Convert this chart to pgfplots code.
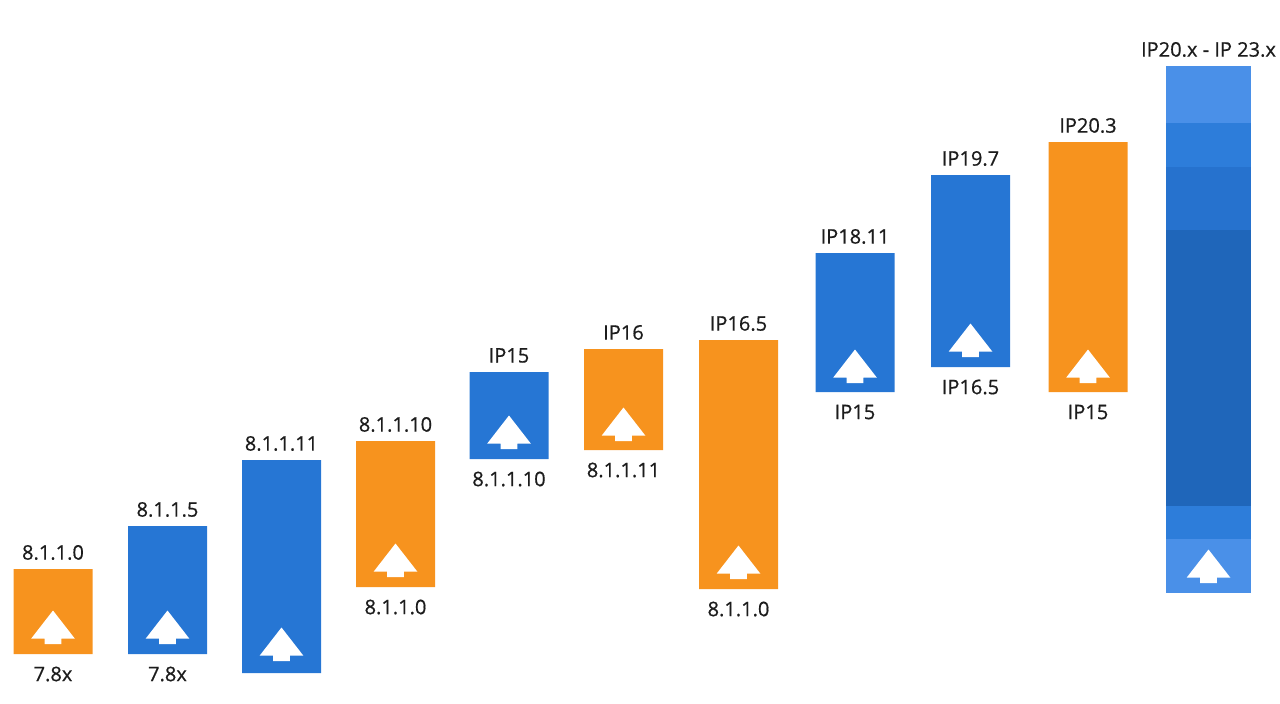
\documentclass[border=0pt]{standalone}
\usepackage{fontspec}
\setmainfont{Open Sans}[FakeBold=0.6]
\usepackage{pgfplots}
\usepackage{pgfplotstable}
\pgfplotsset{compat=1.18}

\definecolor{barorange}{HTML}{F7931E}
\definecolor{barblue}{HTML}{2676D4}
\definecolor{bluelight}{HTML}{4A90E8}
\definecolor{bluemid}{HTML}{2D7DDA}
\definecolor{bluedark}{HTML}{2672CE}
\definecolor{bluedeep}{HTML}{1F66BA}
\definecolor{labeltext}{HTML}{1C1C1C}

% white "upgrade" arrow, 1 px of the reference = 0.569pt
\pgfdeclareplotmark{uparrow}{%
  \pgfpathmoveto{\pgfpoint{-4.74pt}{0pt}}%
  \pgfpathlineto{\pgfpoint{4.74pt}{0pt}}%
  \pgfpathlineto{\pgfpoint{4.74pt}{3.13pt}}%
  \pgfpathlineto{\pgfpoint{12.38pt}{3.13pt}}%
  \pgfpathlineto{\pgfpoint{0pt}{19.06pt}}%
  \pgfpathlineto{\pgfpoint{-12.38pt}{3.13pt}}%
  \pgfpathlineto{\pgfpoint{-4.74pt}{3.13pt}}%
  \pgfpathclose
  \pgfusepathqfill}

% x = bar centre, lo = bar bottom, or/bl = bar height, g1..g6 = bands of the last bar
% ab = arrow base
\pgfplotstableread[col sep=comma]{
x,lo,or,bl,g1,g2,g3,g4,g5,g6,ab,top,bot
53,49,85,0,0,0,0,0,0,0,59,8.1.1.0,7.8x
167.5,49,0,128,0,0,0,0,0,0,59,8.1.1.5,7.8x
281.5,30,0,213,0,0,0,0,0,0,42,8.1.1.11,{}
395.5,116,146,0,0,0,0,0,0,0,126,8.1.1.10,8.1.1.0
509,244,0,87,0,0,0,0,0,0,254,IP15,8.1.1.10
623.5,253,101,0,0,0,0,0,0,0,262,IP16,8.1.1.11
738.5,114,249,0,0,0,0,0,0,0,124,IP16.5,8.1.1.0
855,311,0,139,0,0,0,0,0,0,320,IP18.11,IP15
970.5,336,0,192,0,0,0,0,0,0,346,IP19.7,IP16.5
1088,311,250,0,0,0,0,0,0,0,320,IP20.3,IP15
1208.5,110,0,0,54,33,276,63,44,57,120,IP20.x - IP 23.x,{}
}\bars

\pgfplotsset{
  fbar/.style={ybar stacked, bar shift=0pt, bar width=79, draw=none},
  gbar/.style={ybar stacked, bar shift=0pt, bar width=85, draw=none},
  lbl/.style={draw=none, mark=none, nodes near coords, point meta=explicit symbolic,
    nodes near coords style={font=\fontsize{11.4}{13}\selectfont, text=labeltext,
      anchor=center, inner sep=0pt}},
}

\begin{document}
\begin{tikzpicture}
\begin{axis}[
  hide axis, scale only axis,
  width=25.6cm, height=14.06cm,
  xmin=0, xmax=1280, ymin=0, ymax=703,
  clip=false]
\addplot[draw=none, mark=none] coordinates {(0,0) (1280,703)};
\addplot[fbar, fill=none] table[x=x, y=lo] {\bars};
\addplot[fbar, fill=barorange] table[x=x, y=or] {\bars};
\addplot[fbar, fill=barblue] table[x=x, y=bl] {\bars};
\addplot[gbar, fill=bluelight] table[x=x, y=g1] {\bars};
\addplot[gbar, fill=bluemid] table[x=x, y=g2] {\bars};
\addplot[gbar, fill=bluedeep] table[x=x, y=g3] {\bars};
\addplot[gbar, fill=bluedark] table[x=x, y=g4] {\bars};
\addplot[gbar, fill=bluemid] table[x=x, y=g5] {\bars};
\addplot[gbar, fill=bluelight] table[x=x, y=g6] {\bars};
% arrows
\addplot[only marks, mark=uparrow, mark options={fill=white}]
  table[x=x, y=ab] {\bars};
% labels above and below
\addplot[lbl, nodes near coords style={yshift=9.4pt}]
  table[x=x, y expr=\thisrow{lo}+\thisrow{or}+\thisrow{bl}+\thisrow{g1}+\thisrow{g2}+\thisrow{g3}+\thisrow{g4}+\thisrow{g5}+\thisrow{g6}, meta=top] {\bars};
\addplot[lbl, nodes near coords style={yshift=-11.4pt}]
  table[x=x, y=lo, meta=bot] {\bars};
\end{axis}
\end{tikzpicture}
\end{document}
